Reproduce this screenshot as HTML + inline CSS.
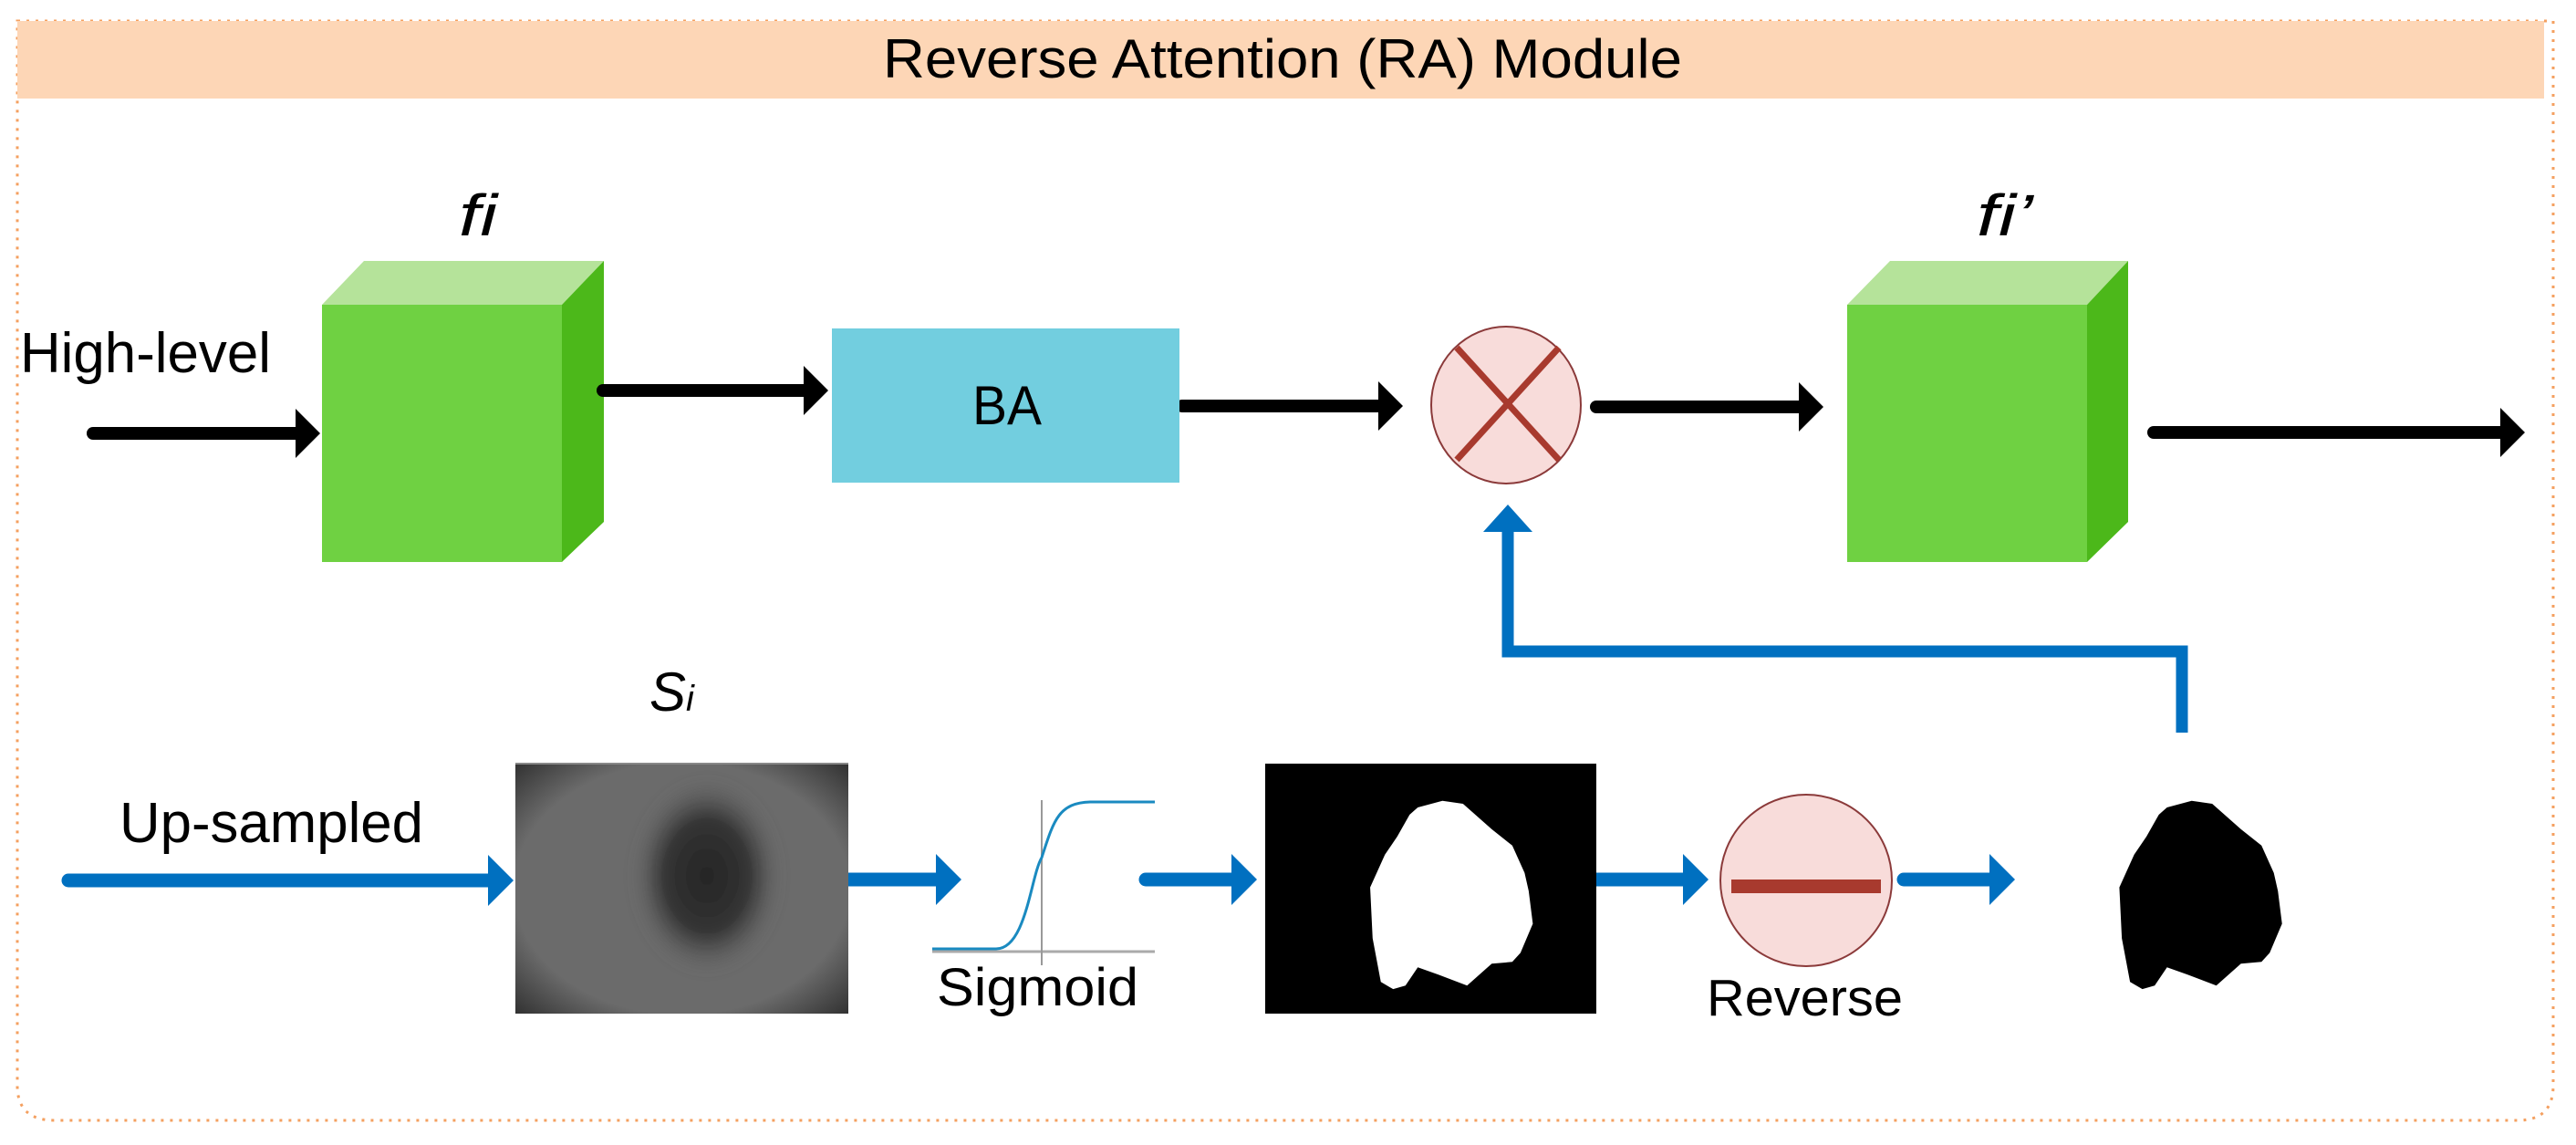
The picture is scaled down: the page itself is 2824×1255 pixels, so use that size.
<!DOCTYPE html>
<html><head><meta charset="utf-8"><style>html,body{margin:0;padding:0;background:#fff}svg{display:block}</style></head>
<body>
<svg width="2824" height="1255" viewBox="0 0 2824 1255" xmlns="http://www.w3.org/2000/svg">
<defs>
<radialGradient id="les" cx="0.5" cy="0.5" r="0.5">
<stop offset="0" stop-color="#262626"/><stop offset="0.6" stop-color="#333"/><stop offset="1" stop-color="#5e5e5e" stop-opacity="0"/>
</radialGradient>
<radialGradient id="vig" cx="0.5" cy="0.5" r="0.72">
<stop offset="0.7" stop-color="#6b6b6b"/><stop offset="1" stop-color="#2e2e2e"/>
</radialGradient>
<filter id="bl"><feGaussianBlur stdDeviation="8"/></filter>
</defs>
<!-- border -->
<path d="M19 23 H2799 V1190 Q2799 1228 2760 1228 H60 Q19 1228 19 1190 Z" fill="none" stroke="#f4a060" stroke-width="3" stroke-dasharray="3 7"/>
<rect x="19" y="23" width="2770" height="85" fill="#fdd6b6"/>
<text x="968" y="85" font-family="Liberation Sans, sans-serif" font-size="60" textLength="876" lengthAdjust="spacingAndGlyphs" fill="#000">Reverse Attention (RA) Module</text>

<!-- cube 1 -->
<polygon points="353,334 399,286 662,286 616,334" fill="#b5e39a"/>
<polygon points="616,334 662,286 662,572 616,616" fill="#4cb81a"/>
<rect x="353" y="334" width="263" height="282" fill="#6fd142"/>
<text x="503" y="258" font-family="Liberation Sans, sans-serif" font-style="italic" font-size="64" textLength="42" lengthAdjust="spacingAndGlyphs">fi</text>

<text x="22" y="408" font-family="Liberation Sans, sans-serif" font-size="62" textLength="275" lengthAdjust="spacingAndGlyphs">High-level</text>

<!-- black arrows -->
<g stroke="#000" stroke-width="14" stroke-linecap="round">
<line x1="102" y1="475" x2="330" y2="475"/>
<line x1="661" y1="428" x2="885" y2="428"/>
<line x1="1296" y1="445" x2="1515" y2="445"/>
<line x1="1750" y1="446" x2="1976" y2="446"/>
<line x1="2361" y1="474" x2="2745" y2="474"/>
</g>
<g fill="#000">
<polygon points="324,448 351,475 324,502"/>
<polygon points="881,401 908,428 881,455"/>
<polygon points="1511,418 1538,445 1511,472"/>
<polygon points="1972,419 1999,446 1972,473"/>
<polygon points="2741,447 2768,474 2741,501"/>
</g>

<!-- BA -->
<rect x="912" y="360" width="381" height="169" fill="#72cedf"/>
<text x="1104" y="465" text-anchor="middle" font-family="Liberation Sans, sans-serif" font-size="60" textLength="76" lengthAdjust="spacingAndGlyphs">BA</text>

<!-- multiply -->
<ellipse cx="1651" cy="444" rx="82" ry="86" fill="#f8dcda" stroke="#8b3a3a" stroke-width="2"/>
<g stroke="#a83a2e" stroke-width="7"><line x1="1597" y1="381" x2="1709" y2="504"/><line x1="1709" y1="381" x2="1597" y2="504"/></g>

<!-- cube 2 -->
<polygon points="2025,334 2072,286 2333,286 2288,334" fill="#b5e39a"/>
<polygon points="2288,334 2333,286 2333,572 2288,616" fill="#4cb81a"/>
<rect x="2025" y="334" width="263" height="282" fill="#6fd142"/>
<text x="2167" y="258" font-family="Liberation Sans, sans-serif" font-style="italic" font-size="64" textLength="62" lengthAdjust="spacingAndGlyphs">fi’</text>

<!-- blue feedback -->
<polyline points="2392,803 2392,714 1653,714 1653,578" fill="none" stroke="#0070c0" stroke-width="13" stroke-linejoin="miter"/>
<polygon points="1626,583 1653,553 1680,583" fill="#0070c0"/>

<!-- bottom row -->
<text x="712" y="779" font-family="Liberation Sans, sans-serif" font-style="italic" font-size="60">S<tspan font-size="40">i</tspan></text>
<text x="131" y="923" font-family="Liberation Sans, sans-serif" font-size="62" textLength="333" lengthAdjust="spacingAndGlyphs">Up-sampled</text>

<g stroke="#0070c0" stroke-width="15" stroke-linecap="round">
<line x1="75" y1="965" x2="540" y2="965"/>
<line x1="930" y1="964" x2="1030" y2="964"/>
<line x1="1256" y1="964" x2="1355" y2="964"/>
<line x1="1750" y1="964" x2="1850" y2="964"/>
<line x1="2087" y1="964" x2="2186" y2="964"/>
</g>
<g fill="#0070c0">
<polygon points="535,937 563,965 535,993"/>
<polygon points="1026,936 1054,964 1026,992"/>
<polygon points="1350,936 1378,964 1350,992"/>
<polygon points="1845,936 1873,964 1845,992"/>
<polygon points="2181,936 2209,964 2181,992"/>
</g>

<!-- Si image -->
<rect x="565" y="837" width="365" height="274" fill="url(#vig)"/>
<ellipse cx="775" cy="960" rx="80" ry="105" fill="url(#les)" filter="url(#bl)"/>
<rect x="565" y="836" width="365" height="2" fill="#888"/>

<!-- sigmoid -->
<line x1="1022" y1="1043" x2="1266" y2="1043" stroke="#aaa" stroke-width="3"/>
<line x1="1142" y1="877" x2="1142" y2="1058" stroke="#999" stroke-width="2"/>
<path d="M1022 1040 H1092 C1125 1040 1130 960 1142 940 C1155 900 1160 880 1195 879 H1266" fill="none" stroke="#1a8ac0" stroke-width="3"/>
<text x="1027" y="1102" font-family="Liberation Sans, sans-serif" font-size="58" textLength="221" lengthAdjust="spacingAndGlyphs">Sigmoid</text>

<!-- mask image -->
<rect x="1387" y="837" width="363" height="274" fill="#000"/>
<g transform="translate(1412,630) scale(0.9006,0.3984)">
<path transform="translate(-912,0)" fill="#fff" d="M1070 640 L1100 622 L1125 630 L1160 700 L1185 745 L1200 820 L1205 870 L1210 960 L1195 1040 L1185 1065 L1160 1070 L1130 1130 L1095 1100 L1070 1080 L1055 1130 L1040 1140 L1025 1120 L1015 1000 L1012 860 L1030 770 L1045 720 L1060 660 Z"/>
<path fill="#000" d="M1070 640 L1100 622 L1125 630 L1160 700 L1185 745 L1200 820 L1205 870 L1210 960 L1195 1040 L1185 1065 L1160 1070 L1130 1130 L1095 1100 L1070 1080 L1055 1130 L1040 1140 L1025 1120 L1015 1000 L1012 860 L1030 770 L1045 720 L1060 660 Z"/>
</g>

<!-- minus -->
<ellipse cx="1980" cy="965" rx="94" ry="94" fill="#f8dcda" stroke="#8b3a3a" stroke-width="2"/>
<rect x="1898" y="964" width="164" height="15" fill="#a83a2e"/>
<text x="1871" y="1113" font-family="Liberation Sans, sans-serif" font-size="57" textLength="215" lengthAdjust="spacingAndGlyphs">Reverse</text>
</svg>
</body></html>
